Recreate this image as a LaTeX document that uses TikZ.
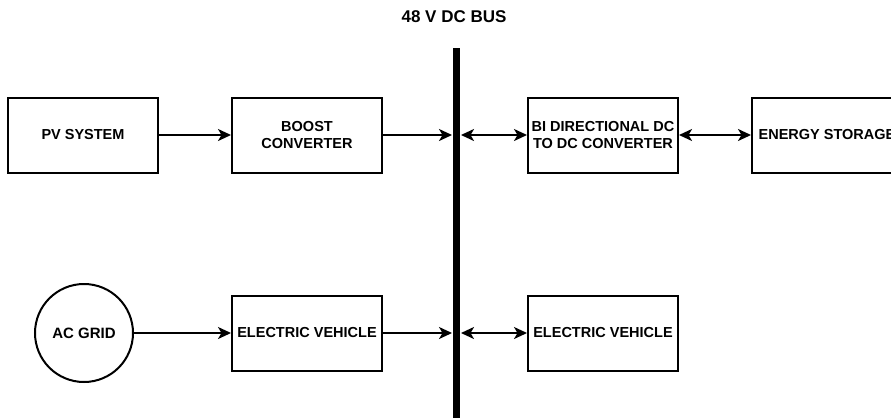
\documentclass[tikz,border=0pt]{standalone}
\usepackage{fontspec}
\setmainfont{Liberation Sans}
\usepackage{tikz}
\usetikzlibrary{arrows.meta}

\begin{document}
\begin{tikzpicture}[x=1pt, y=-1pt, node distance=224pt,
    >={Stealth[length=13pt, width=12pt, inset=3.5pt]},
    every path/.style={line width=2pt},
    block/.style={draw, rectangle, minimum width=150pt, minimum height=75pt, align=center,
        inner sep=1pt, font=\bfseries\fontsize{14.5}{17.5}\selectfont},
    source/.style={draw, circle, minimum size=98pt, inner sep=0pt,
        font=\bfseries\fontsize{15}{18}\selectfont}]

    \useasboundingbox (0,0) rectangle (891,418);

    \node [fill, minimum width=7pt, minimum height=370pt, inner sep=0pt] (bus) at (456.5,233) {};
    \node [font=\bfseries\fontsize{17}{20}\selectfont] (title) at (454,17) {48 V DC BUS};

    \node [block] (pv) at (83,135) {PV SYSTEM};
    \node [block, right of=pv] (boost) {BOOST\\CONVERTER};
    \node [block, right of=boost, xshift=72pt] (bidc) {BI DIRECTIONAL DC\\TO DC CONVERTER};
    \node [block, right of=bidc] (storage) {ENERGY STORAGE};
    \node [source] (grid) at (84,333) {AC GRID};
    \node [block, below of=boost, yshift=26pt] (evin) {ELECTRIC VEHICLE};
    \node [block, below of=bidc, yshift=26pt] (evout) {ELECTRIC VEHICLE};

    \draw [->] (pv) -- (boost);
    \draw [->] (boost) -- (boost -| bus.west);
    \draw [<->] (bidc -| bus.east) -- (bidc);
    \draw [<->] (bidc) -- (storage);
    \draw [->] (grid) -- (evin);
    \draw [->] (evin) -- (evin -| bus.west);
    \draw [<->] (evout -| bus.east) -- (evout);
\end{tikzpicture}
\end{document}
